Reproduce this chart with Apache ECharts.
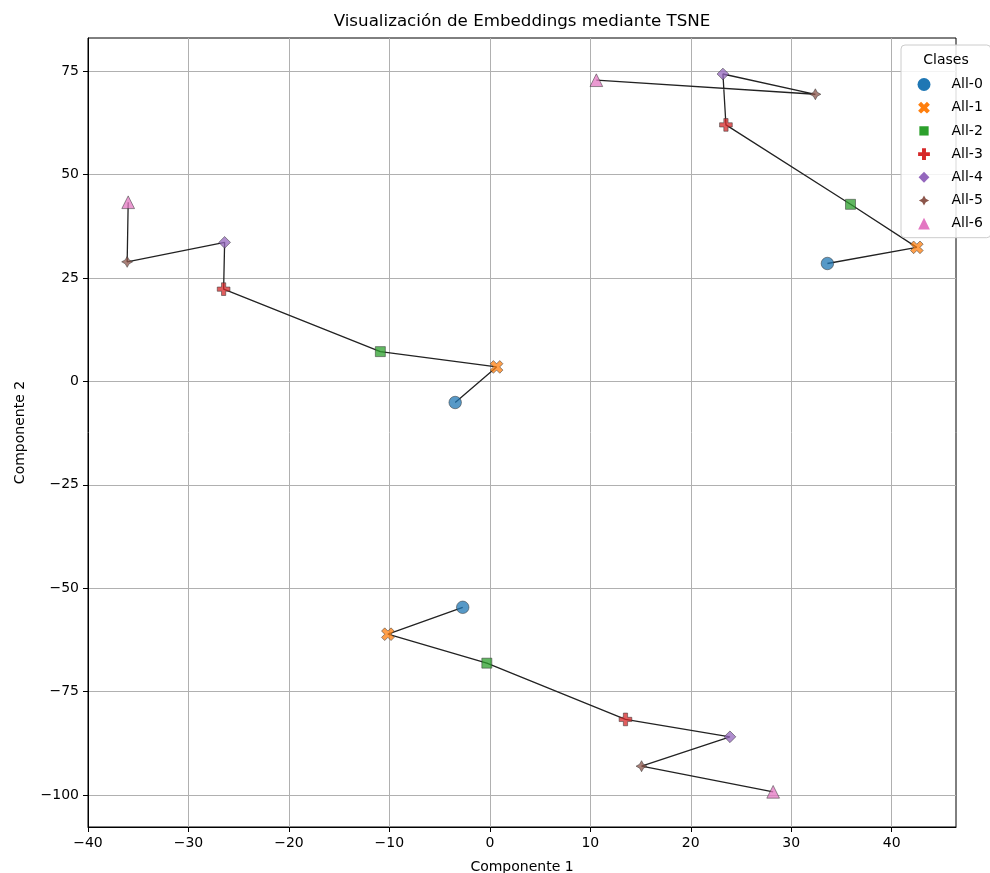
<!DOCTYPE html>
<html><head><meta charset="utf-8">
<script src="https://cdn.jsdelivr.net/npm/echarts@6/dist/echarts.min.js"></script>
<style>html,body{margin:0;padding:0;background:#fff}#c{width:990px;height:873px}</style>
</head><body><div id="c"></div>
<script>
const classes = ['All-0', 'All-1', 'All-2', 'All-3', 'All-4', 'All-5', 'All-6'];
const colors = ['#1f77b4', '#ff7f0e', '#2ca02c', '#d62728', '#9467bd', '#8c564b', '#e377c2'];
// three sequences (one point per class in each)
const g1x = [33.6, 42.5, 35.9, 23.5, 23.2, 32.4, 10.6];
const g1y = [28.5, 32.4, 42.8, 62.0, 74.3, 69.4, 72.8];
const g2x = [-3.45, 0.67, -10.9, -26.5, -26.4, -36.1, -36.0];
const g2y = [-5.1, 3.5, 7.2, 22.3, 33.6, 28.9, 43.3];
const g3x = [-2.7, -10.15, -0.3, 13.5, 23.9, 15.1, 28.2];
const g3y = [-54.6, -61.1, -68.1, -81.7, -85.9, -93.0, -99.2];
const xTicks = [-40, -30, -20, -10, 0, 10, 20, 30, 40];
const yTicks = [-100, -75, -50, -25, 0, 25, 50, 75];
const xTickStep = 10;
const yTickStep = 25;

const PAD = 'M0 0M14 14';
const symbols = [
  'circle',
  'path://' + PAD + 'M3.825 0.65L7 3.825L10.175 0.65L13.35 3.825L10.175 7L13.35 10.175L10.175 13.35L7 10.175L3.825 13.35L0.65 10.175L3.825 7L0.65 3.825Z',
  'path://' + PAD + 'M2 2H12V12H2Z',
  'path://' + PAD + 'M4.883 0.65H9.117V4.883H13.35V9.117H9.117V13.35H4.883V9.117H0.65V4.883H4.883Z',
  'path://' + PAD + 'M7 1.15L12.85 7L7 12.85L1.15 7Z',
  'path://' + PAD + 'M7 1.5L8.95 5.05L12.5 7L8.95 8.95L7 12.5L5.05 8.95L1.5 7L5.05 5.05Z',
  'path://' + PAD + 'M7 0.65L13.35 13.35L0.65 13.35Z'
];
const symbolSizes = [12.5, 14, 14, 14, 14, 14, 14];

const FONT = 'DejaVu Sans';
const fmt = step => v => (Math.abs(v / step - Math.round(v / step)) < 1e-6) ? String(v).replace('-', '\u2212') : '';

const series = [];
[[g1x, g1y], [g2x, g2y], [g3x, g3y]].forEach(([xs, ys], k) => {
  series.push({
    type: 'line', name: 'path' + k, data: xs.map((x, i) => [x, ys[i]]),
    showSymbol: false, symbol: 'none', silent: true, z: 2,
    lineStyle: { color: '#222', width: 1.3 }
  });
});
classes.forEach((c, i) => {
  series.push({
    type: 'scatter', name: c, z: 3,
    data: [[g1x[i], g1y[i]], [g2x[i], g2y[i]], [g3x[i], g3y[i]]],
    symbol: symbols[i], symbolSize: symbolSizes[i],
    itemStyle: { color: colors[i], opacity: 0.75, borderColor: '#333', borderWidth: 0.7 }
  });
});

const chart = echarts.init(document.getElementById('c'), null, { renderer: 'canvas' });
chart.setOption({
  animation: false,
  backgroundColor: '#fff',
  textStyle: { fontFamily: FONT },
  grid: { left: 88, right: 34, top: 38, bottom: 46, show: true, borderColor: '#000', borderWidth: 1, backgroundColor: 'transparent', outerBoundsMode: 'none', containLabel: false },
  xAxis: {
    type: 'value', min: -40, max: 46.4, interval: xTickStep,
    name: 'Componente 1', nameLocation: 'middle', nameGap: 33,
    nameTextStyle: { fontSize: 14, color: '#000', fontFamily: FONT },
    axisLine: { show: true, onZero: false, lineStyle: { color: '#000', width: 1 } },
    axisTick: { show: true, length: 5, customValues: xTicks, lineStyle: { color: '#000' } },
    axisLabel: { fontSize: 14, color: '#000', margin: 9, fontFamily: FONT, customValues: xTicks, formatter: fmt(xTickStep) },
    splitLine: { show: true, lineStyle: { color: '#b0b0b0', width: 1 } }
  },
  yAxis: {
    type: 'value', min: -107.7, max: 83, minInterval: yTickStep, maxInterval: yTickStep, splitNumber: 7,
    name: 'Componente 2', nameLocation: 'middle', nameGap: 61,
    nameTextStyle: { fontSize: 14, color: '#000', fontFamily: FONT },
    axisLine: { show: true, onZero: false, lineStyle: { color: '#000', width: 1 } },
    axisTick: { show: true, length: 5, customValues: yTicks, lineStyle: { color: '#000' } },
    axisLabel: { fontSize: 14, color: '#000', margin: 9, fontFamily: FONT, customValues: yTicks, formatter: fmt(yTickStep) },
    splitLine: { show: true, lineStyle: { color: '#b0b0b0', width: 1 } }
  },
  legend: {
    orient: 'vertical', left: 901, top: 45,
    padding: [32.5, 8, 7, 16.5],
    itemWidth: 13, itemHeight: 13, itemGap: 9.2,
    borderColor: '#cccccc', borderWidth: 1, borderRadius: 4,
    backgroundColor: 'rgba(255,255,255,0.85)',
    itemStyle: { opacity: 1, borderWidth: 0 },
    textStyle: { fontSize: 14, color: '#000', fontFamily: FONT, padding: [0, 0, 0, 16] },
    data: classes.map((c, i) => ({ name: c, icon: symbols[i], itemStyle: { color: colors[i], opacity: 1, borderWidth: 0 } }))
  },
  graphic: [
    { type: 'text', x: 522, y: 22, z: 100,
      style: { text: 'Visualización de Embeddings mediante TSNE', fontSize: 16.7, fontFamily: FONT, fill: '#000', align: 'center', verticalAlign: 'middle', textAlign: 'center', textVerticalAlign: 'middle' } },
    { type: 'text', x: 946, y: 60, z: 100,
      style: { text: 'Clases', fontSize: 14, fontFamily: FONT, fill: '#000', align: 'center', verticalAlign: 'middle', textAlign: 'center', textVerticalAlign: 'middle' } }
  ],
  series: series
});
</script>
</body></html>
